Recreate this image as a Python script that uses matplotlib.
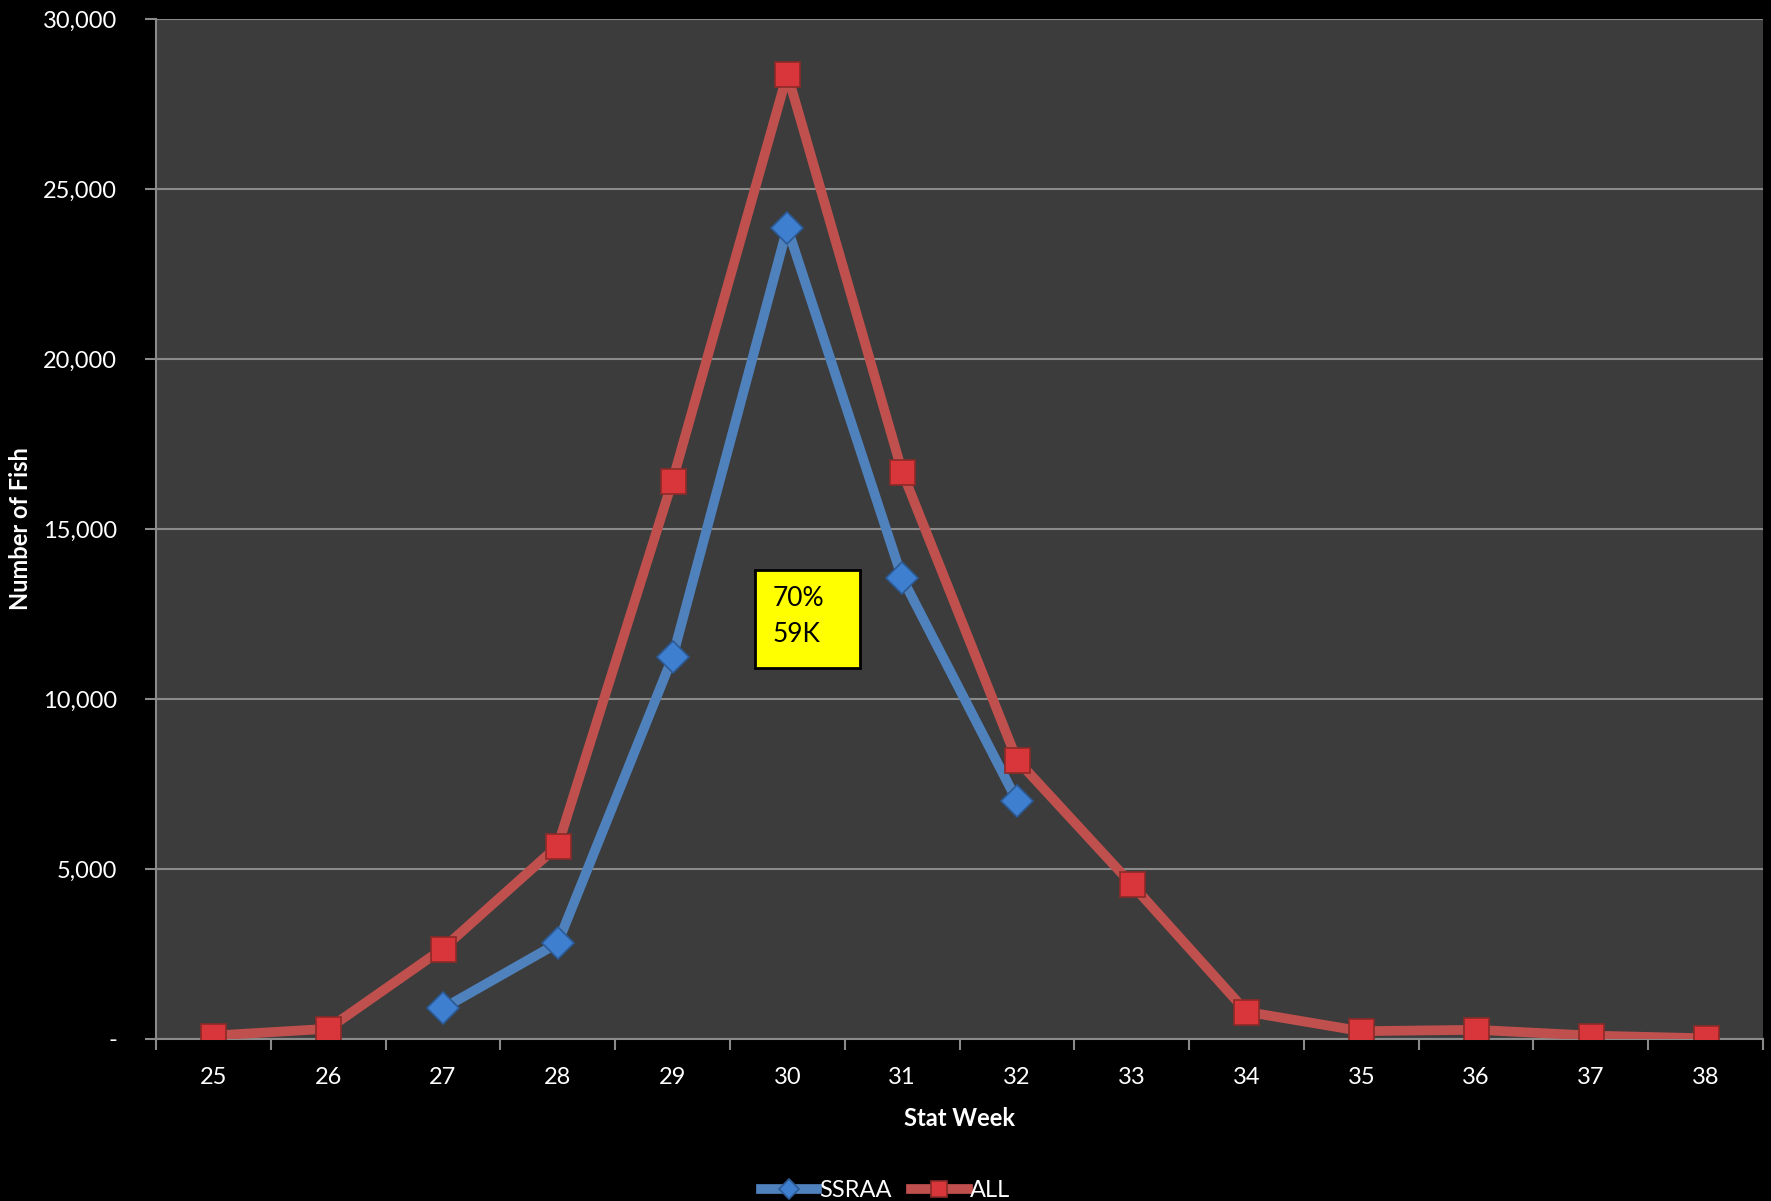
import matplotlib.pyplot as plt
from matplotlib.patches import Rectangle
from matplotlib.ticker import FuncFormatter, MultipleLocator

# data
weeks = [25, 26, 27, 28, 29, 30, 31, 32, 33, 34, 35, 36, 37, 38]
all_fish = [100, 300, 2660, 5680, 16420, 28380, 16690, 8210, 4550, 800, 230, 270, 100, 20]
ssraa_weeks = [27, 28, 29, 30, 31, 32]
ssraa_fish = [900, 2820, 11230, 23860, 13560, 7010]

plt.rcParams['font.family'] = ['Lato', 'DejaVu Sans']

fig = plt.figure(figsize=(17.71, 12.01), dpi=100, facecolor='black')
ax = fig.add_axes([0.0881, 0.1349, 0.9074, 0.8493])
ax.set_facecolor('#3c3c3c')

ax.plot(ssraa_weeks, ssraa_fish, color='#4f81bd', lw=7, marker='D', ms=16,
        mfc='#3f7fd0', mec='#2c5a94', mew=1.2, label='SSRAA', zorder=3)
ax.plot(weeks, all_fish, color='#c0504d', lw=7, marker='s', ms=18,
        mfc='#d9363b', mec='#8c2a28', mew=1.2, label='ALL', zorder=4)

ax.set_xlim(24.5, 38.5)
ax.set_ylim(0, 30000)
ax.yaxis.set_major_locator(MultipleLocator(5000))
ax.yaxis.set_major_formatter(FuncFormatter(lambda v, p: '-' if v == 0 else f'{int(v):,}'))
ax.set_xticks(weeks)
ax.set_xticks([w + 0.5 for w in [24] + weeks], minor=True)
ax.grid(axis='y', color='#8a8a8a', lw=1.5)
ax.set_axisbelow(True)

for s in ['top', 'right']:
    ax.spines[s].set_visible(False)
for s in ['left', 'bottom']:
    ax.spines[s].set_color('#8a8a8a')
    ax.spines[s].set_linewidth(1.5)

ax.tick_params(axis='x', which='major', length=0, pad=20, labelsize=17, labelcolor='white')
ax.tick_params(axis='x', which='minor', length=8, width=1.5, color='#8a8a8a')
ax.tick_params(axis='y', length=8, width=1.5, color='#8a8a8a', pad=20, labelsize=17, labelcolor='white')

ax.set_xlabel('Stat Week', color='white', fontsize=17, fontweight='bold', labelpad=14)
fig.text(21 / 1771, 0.56, 'Number of Fish', color='white', fontsize=17, fontweight='bold',
         rotation=90, ha='center', va='center')

# yellow note box
ax.add_patch(Rectangle((29.72, 10900), 0.91, 2890, fc='#ffff00', ec='black', lw=2, zorder=5))
ax.text(29.87, 12960, '70%', fontsize=19, color='black', va='center', ha='left', zorder=6)
ax.text(29.87, 11900, '59K', fontsize=19, color='black', va='center', ha='left', zorder=6)

leg = fig.legend(loc='lower center', bbox_to_anchor=(0.5, -0.018), ncol=2, frameon=False,
                 fontsize=17, handlelength=2.4, handletextpad=0.1, columnspacing=0.8,
                 markerscale=0.65)
for t in leg.get_texts():
    t.set_color('white')

fig.savefig('out.png', dpi=100, facecolor='black')
